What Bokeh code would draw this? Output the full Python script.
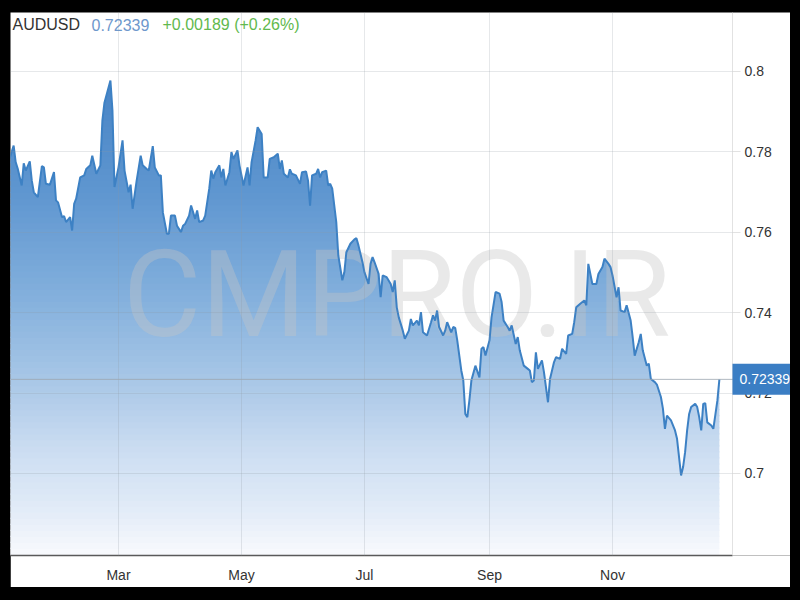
import numpy as np
import pandas as pd
from bokeh.plotting import figure
from bokeh.models import (Range1d, FixedTicker, DatetimeTickFormatter,
                          CustomJSTickFormatter, Label, Span, BoxAnnotation)
from bokeh.layouts import column
from bokeh.embed import file_html
from bokeh.resources import INLINE
from bokeh.core.properties import value

# ---------------- data ----------------
symbol = "AUDUSD"
last_price_text = "0.72339"
change_text = "+0.00189 (+0.26%)"
watermark_text = "CMPRO.IR"
year = 2021

day_of_year = [
    6, 8, 9, 10, 12, 13, 14, 16, 17, 18, 20, 22, 23, 24, 26, 28, 29, 30, 32, 33,
    34, 36, 37, 38, 39, 41, 43, 44, 46, 47, 49, 51, 52, 53, 56, 57, 58, 60, 62, 63,
    65, 66, 67, 69, 71, 72, 74, 75, 77, 78, 80, 81, 82, 84, 85, 86, 88, 89, 91, 92,
    93, 95, 96, 98, 99, 100, 102, 103, 105, 106, 107, 108, 110, 111, 112, 113, 115, 116, 117, 119,
    120, 122, 124, 125, 126, 128, 129, 131, 132, 134, 135, 137, 139, 140, 141, 142, 144, 145, 146, 148,
    150, 151, 153, 154, 155, 156, 158, 159, 160, 161, 163, 164, 165, 166, 168, 169, 171, 172, 173, 175,
    177, 178, 179, 181, 182, 184, 185, 186, 187, 189, 190, 191, 193, 195, 196, 197, 198, 199, 201, 202,
    204, 205, 206, 208, 209, 210, 211, 213, 215, 216, 217, 218, 219, 221, 222, 223, 225, 226, 227, 228,
    230, 231, 232, 233, 234, 235, 237, 239, 240, 241, 242, 244, 245, 247, 249, 250, 251, 253, 254, 255,
    257, 258, 259, 261, 263, 264, 265, 266, 267, 268, 270, 271, 273, 274, 276, 277, 279, 280, 282, 283,
    285, 286, 287, 289, 291, 292, 293, 295, 297, 298, 300, 301, 303, 304, 305, 307, 308, 309, 311, 312,
    314, 315, 316, 318, 319, 320, 322, 323, 324, 326, 327, 329, 330, 331, 332, 334, 336, 337, 339, 340,
    341, 342, 343, 344, 346, 347, 348, 349, 350, 351, 352, 354, 355, 357, 358,
]

close = [
    0.7783, 0.7815, 0.7774, 0.7758, 0.7716, 0.7771, 0.7753, 0.7776, 0.7728, 0.7699,
    0.7687, 0.7764, 0.7761, 0.7720, 0.7718, 0.7749, 0.7679, 0.7674, 0.7637, 0.7640,
    0.7625, 0.7637, 0.7604, 0.7670, 0.7683, 0.7736, 0.7741, 0.7757, 0.7766, 0.7790,
    0.7745, 0.7766, 0.7877, 0.7921, 0.7977, 0.7902, 0.7712, 0.7761, 0.7828, 0.7753,
    0.7699, 0.7718, 0.7658, 0.7728, 0.7790, 0.7766, 0.7757, 0.7753, 0.7814, 0.7761,
    0.7741, 0.7741, 0.7649, 0.7596, 0.7596, 0.7641, 0.7641, 0.7616, 0.7600, 0.7616,
    0.7620, 0.7641, 0.7666, 0.7633, 0.7654, 0.7625, 0.7629, 0.7641, 0.7708, 0.7753,
    0.7733, 0.7749, 0.7766, 0.7736, 0.7757, 0.7716, 0.7749, 0.7799, 0.7782, 0.7803,
    0.7766, 0.7716, 0.7761, 0.7716, 0.7774, 0.7828, 0.7861, 0.7844, 0.7736, 0.7736,
    0.7782, 0.7786, 0.7795, 0.7757, 0.7778, 0.7745, 0.7736, 0.7756, 0.7745, 0.7741,
    0.7720, 0.7749, 0.7751, 0.7728, 0.7666, 0.7741, 0.7745, 0.7757, 0.7736, 0.7749,
    0.7753, 0.7716, 0.7720, 0.7708, 0.7625, 0.7542, 0.7480, 0.7500, 0.7550, 0.7571,
    0.7582, 0.7585, 0.7567, 0.7525, 0.7500, 0.7471, 0.7521, 0.7538, 0.7525, 0.7496,
    0.7438, 0.7492, 0.7488, 0.7471, 0.7451, 0.7480, 0.7413, 0.7388, 0.7355, 0.7335,
    0.7355, 0.7384, 0.7368, 0.7380, 0.7368, 0.7401, 0.7351, 0.7343, 0.7376, 0.7393,
    0.7380, 0.7405, 0.7364, 0.7343, 0.7355, 0.7376, 0.7351, 0.7364, 0.7362, 0.7331,
    0.7256, 0.7231, 0.7148, 0.7140, 0.7181, 0.7231, 0.7268, 0.7239, 0.7310, 0.7314,
    0.7293, 0.7331, 0.7388, 0.7451, 0.7447, 0.7426, 0.7380, 0.7364, 0.7355, 0.7368,
    0.7322, 0.7339, 0.7306, 0.7268, 0.7260, 0.7256, 0.7227, 0.7231, 0.7301, 0.7260,
    0.7281, 0.7252, 0.7177, 0.7235, 0.7277, 0.7289, 0.7285, 0.7310, 0.7297, 0.7343,
    0.7347, 0.7376, 0.7413, 0.7422, 0.7430, 0.7418, 0.7521, 0.7471, 0.7471, 0.7496,
    0.7513, 0.7534, 0.7521, 0.7513, 0.7492, 0.7438, 0.7463, 0.7405, 0.7401, 0.7418,
    0.7380, 0.7339, 0.7293, 0.7326, 0.7347, 0.7306, 0.7268, 0.7273, 0.7235, 0.7227,
    0.7221, 0.7190, 0.7161, 0.7111, 0.7144, 0.7132, 0.7107, 0.7086, 0.6995, 0.7016,
    0.7053, 0.7107, 0.7148, 0.7165, 0.7173, 0.7165, 0.7140, 0.7107, 0.7173, 0.7175,
    0.7127, 0.7119, 0.7111, 0.7181, 0.72339,
]

y_ticks = [0.70, 0.72, 0.74, 0.76, 0.78, 0.80]
month_ticks = ["2021-03-01", "2021-05-01", "2021-07-01", "2021-09-01", "2021-11-01"]
x_start, x_end, x_view_end = "2021-01-06 10:30", "2021-12-30 12:00", "2022-01-28 06:30"
y_start, y_end = 0.6796, 0.8146

# ---------------- derived ----------------
dates = pd.Timestamp(f"{year}-01-01") + pd.to_timedelta(np.array(day_of_year) - 1, unit="D")
xs = dates.values.astype("datetime64[ms]").astype(np.int64).astype(float)
vals = np.array(close)
last_price = float(last_price_text)
ms = lambda s: pd.Timestamp(s).value / 1e6

FONT = "'Liberation Sans', Arial, sans-serif"
WM_FONT = "Roboto, 'Liberation Sans', sans-serif"

W, H, BOTTOM = 780, 575, 32
p = figure(width=W, height=H, x_axis_type="datetime", y_axis_location="right",
           x_range=Range1d(pd.Timestamp(x_start), pd.Timestamp(x_view_end)),
           y_range=Range1d(y_start, y_end),
           output_backend="svg", toolbar_location=None,
           min_border_left=0, min_border_top=0, min_border_right=0, min_border_bottom=BOTTOM,
           background_fill_color="white", border_fill_color="white",
           outline_line_color=None)
p.margin = (12, 10, 13, 10)


def band_outline(x, y, lo, hi):
    """Exact outline of the area under the polyline, restricted to [lo, hi]."""
    ox, oy = [], []
    for i in range(len(x) - 1):
        x0, x1, y0, y1 = x[i], x[i + 1], y[i], y[i + 1]
        ox.append(x0); oy.append(min(max(y0, lo), hi))
        ts = []
        for lev in (lo, hi):
            if (y0 - lev) * (y1 - lev) < 0:
                ts.append((lev - y0) / (y1 - y0))
        for t in sorted(ts):
            ox.append(x0 + t * (x1 - x0)); oy.append(min(max(y0 + t * (y1 - y0), lo), hi))
    ox.append(x[-1]); oy.append(min(max(y[-1], lo), hi))
    return np.array(ox), np.array(oy)


# gradient area fill (absolute vertical gradient via horizontal bands)
stops_v = [0.680, 0.690, 0.705, 0.725, 0.745, 0.770, 0.800]
stops_c = [(248, 250, 253), (228, 237, 248), (205, 222, 242), (165, 197, 230),
           (130, 175, 220), (95, 150, 208), (70, 130, 196)]
step = 0.0015
ov = 0.0003
edges = np.arange(0.680, vals.max() + step, step)
for lo, hi in zip(edges[:-1], edges[1:]):
    mid = (lo + hi) / 2
    col = tuple(int(round(np.interp(mid, stops_v, [c[i] for c in stops_c]))) for i in range(3))
    bx, by = band_outline(xs, vals, lo - ov, hi)
    p.varea(x=bx, y1=np.full_like(by, lo - ov), y2=by,
            fill_color="#%02x%02x%02x" % col, fill_alpha=1.0)

# watermark
wm_x = pd.Timestamp(x_start) + (pd.Timestamp(x_end) - pd.Timestamp(x_start)) * 0.535
p.text(x=[wm_x], y=[0.7443], text=[watermark_text], text_font=value(WM_FONT),
       text_font_size="120px", text_color="#c4c4c4", text_alpha=0.38,
       text_align="center", text_baseline="middle")

# price line
p.line(dates, vals, line_color="#3d81c4", line_width=2)

# grids
p.xgrid.ticker = FixedTicker(ticks=[ms(m) for m in month_ticks])
p.ygrid.ticker = FixedTicker(ticks=y_ticks)
p.grid.grid_line_color = "#8c96a0"
p.grid.grid_line_alpha = 0.22
p.grid.level = "overlay"
try:
    p.ygrid.cross_bounds = (ms(x_start), ms(x_end))
except Exception:
    pass

# x axis
xa = p.xaxis[0]
xa.ticker = FixedTicker(ticks=[ms(m) for m in month_ticks])
xa.formatter = DatetimeTickFormatter(months="%b", days="%b", years="%b")
xa.bounds = (ms(x_start), ms(x_end))
xa.axis_line_color = "#5a5a5a"
xa.axis_line_width = 1.5
xa.major_tick_line_color = None
xa.minor_tick_line_color = None
xa.major_label_standoff = 5
xa.major_label_text_font = FONT
xa.major_label_text_font_size = "14px"
xa.major_label_text_color = "#333333"

# y axis (right, pinned at the end of the data window)
ya = p.yaxis[0]
ya.fixed_location = ms(x_end)
ya.ticker = FixedTicker(ticks=y_ticks)
ya.formatter = CustomJSTickFormatter(code="return String(Number(tick.toFixed(4)));")
ya.axis_line_color = "#e2e2e2"
ya.major_tick_line_color = "#e2e2e2"
ya.major_tick_out = 8
ya.major_tick_in = 0
ya.minor_tick_line_color = None
ya.major_label_standoff = 4
ya.major_label_text_font = FONT
ya.major_label_text_font_size = "14px"
ya.major_label_text_color = "#333333"

# last price line and tag
p.add_layout(Span(location=last_price, dimension="width", line_color="#9ea7b1",
                  line_width=1, line_alpha=0.8, level="overlay"))
half_tag = 15.5 * (y_end - y_start) / (H - BOTTOM)   # 31 px tall tag
p.add_layout(BoxAnnotation(left=ms(x_end), bottom=last_price - half_tag,
                           top=last_price + half_tag, fill_color="#3b7ec4",
                           fill_alpha=1.0, line_color=None, level="overlay"))
p.add_layout(Label(x=pd.Timestamp(x_end), y=last_price, x_offset=7, text=last_price_text,
                   text_color="white", text_font=FONT, text_font_size="14px",
                   text_align="left", text_baseline="middle", level="overlay"))

# header texts
for txt, off, colr in [(symbol, 2, "#333333"), (last_price_text, 81, "#6e98cc"),
                       (change_text, 152, "#62b94e")]:
    p.add_layout(Label(x=pd.Timestamp(x_start), y=y_end, x_offset=off, y_offset=-12,
                       text=txt, text_color=colr, text_font=FONT, text_font_size="16px",
                       text_align="left", text_baseline="alphabetic"))

root = column(p, styles={"background-color": "#000000"})

open("out.html", "w").write(file_html(root, INLINE))
